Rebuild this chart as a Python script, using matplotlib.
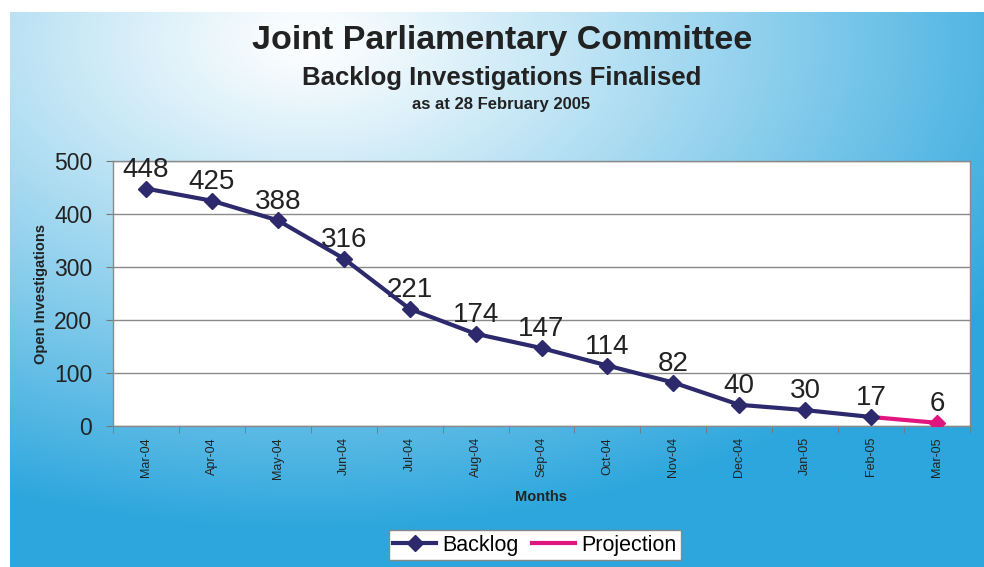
import numpy as np
import matplotlib
matplotlib.use('Agg')
import matplotlib.pyplot as plt
from matplotlib.colors import to_rgb

plt.rcParams['font.family'] = ['Liberation Sans', 'DejaVu Sans']

MONTHS = ['Mar-04', 'Apr-04', 'May-04', 'Jun-04', 'Jul-04', 'Aug-04', 'Sep-04',
          'Oct-04', 'Nov-04', 'Dec-04', 'Jan-05', 'Feb-05', 'Mar-05']
BACKLOG = [448, 425, 388, 316, 221, 174, 147, 114, 82, 40, 30, 17]
PROJECTION_MONTHS = ['Feb-05', 'Mar-05']
PROJECTION = [17, 6]
Y_TICKS = [0, 100, 200, 300, 400, 500]

NAVY = '#2c2a6c'
MAGENTA = '#e0157f'
TEXT = '#222222'

W, H = 984, 567
fig = plt.figure(figsize=(W / 100, H / 100), dpi=100)
fig.patch.set_facecolor('white')

# soft white-to-blue backdrop behind the whole chart
bg = fig.add_axes([10 / W, 0, 1 - 10 / W, 1 - 12 / H], zorder=0)
yy, xx = np.mgrid[0:H, 0:W].astype(float)
f = np.sqrt(((xx - 300) / 820) ** 2 + ((yy - 30) / 500) ** 2)
f = np.clip(f, 0, 1) ** 1.1
white = np.array([1.0, 1.0, 1.0])
blue = np.array(to_rgb('#2ca6dd'))
img = white[None, None, :] * (1 - f[..., None]) + blue[None, None, :] * f[..., None]
bg.imshow(img, aspect='auto', interpolation='bilinear')
bg.axis('off')

ax = fig.add_axes([113 / W, (H - 426) / H, 857 / W, 265 / H], zorder=1)
ax.set_facecolor('white')

x = np.arange(len(MONTHS))
bx = x[:len(BACKLOG)]
px = np.array([MONTHS.index(m) for m in PROJECTION_MONTHS])

ax.plot(px, PROJECTION, color=MAGENTA, lw=3, zorder=3, label='Projection')
ax.plot(px[-1:], PROJECTION[-1:], 'D', color=MAGENTA, ms=8, zorder=4)
ax.plot(bx, BACKLOG, color=NAVY, lw=3, marker='D', ms=8, zorder=5, label='Backlog')

# value labels above each point
for xi, v in list(zip(bx, BACKLOG)) + [(px[-1], PROJECTION[-1])]:
    ax.annotate(str(v), (xi, v), xytext=(0, 8.5), textcoords='offset points',
                ha='center', va='baseline', fontsize=20, color=TEXT)

ax.set_xlim(-0.5, len(MONTHS) - 0.5)
ax.set_ylim(0, 500)
ax.set_yticks(Y_TICKS)
ax.set_yticklabels([str(t) for t in Y_TICKS], fontsize=16.5, color=TEXT)
ax.set_xticks(x)
ax.set_xticklabels(MONTHS, rotation=90, fontsize=9, color=TEXT)
ax.set_xticks(np.arange(-0.5, len(MONTHS)), minor=True)
ax.tick_params(axis='x', which='major', length=0, pad=8)
ax.tick_params(axis='x', which='minor', length=5, color='#777777')
ax.tick_params(axis='y', length=5, color='#777777', pad=10)
ax.grid(axis='y', color='#8a8a8a', lw=1)
ax.set_axisbelow(True)
for s in ax.spines.values():
    s.set_color('#8a8a8a')
    s.set_linewidth(1)

ax.set_ylabel('Open Investigations', fontsize=10.5, fontweight='bold',
              color=TEXT, labelpad=4)
ax.set_xlabel('Months', fontsize=10.5, fontweight='bold', color=TEXT,
              labelpad=8)

fig.text(0.5105, 1 - 40 / H, 'Joint Parliamentary Committee', ha='center',
         va='center', fontsize=24.5, fontweight='bold', color=TEXT)
fig.text(0.5095, 1 - 78 / H, 'Backlog Investigations Finalised', ha='center',
         va='center', fontsize=18.5, fontweight='bold', color=TEXT)
fig.text(0.5095, 1 - 104 / H, 'as at 28 February 2005', ha='center',
         va='center', fontsize=12, fontweight='bold', color=TEXT)

handles, labels = ax.get_legend_handles_labels()
leg = fig.legend(handles[::-1], labels[::-1], loc='center',
                 bbox_to_anchor=(535 / W, 1 - 545 / H), ncol=2, fontsize=15.5,
                 frameon=True, fancybox=False, edgecolor='#888888',
                 framealpha=1, handlelength=2.0, handletextpad=0.3,
                 columnspacing=0.6, borderpad=0.2)
leg.get_frame().set_linewidth(1)

fig.savefig('out.png', dpi=100)
